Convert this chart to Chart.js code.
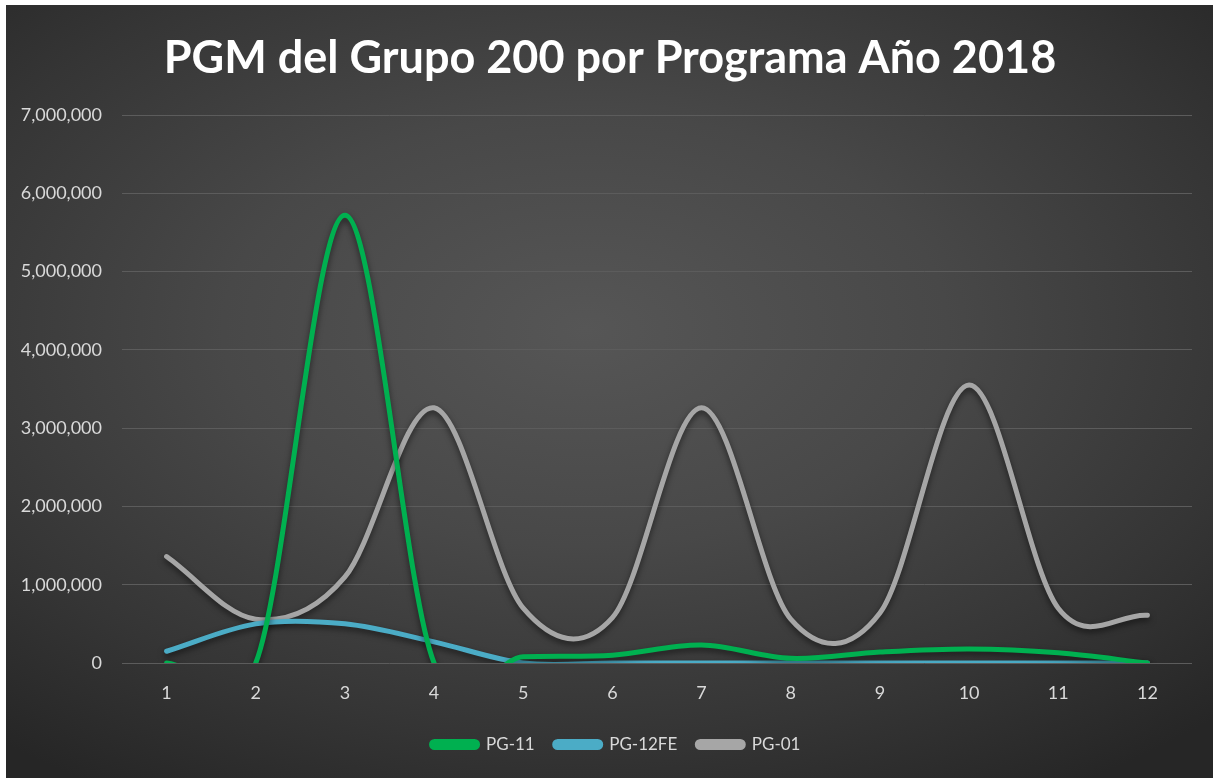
<!DOCTYPE html>
<html>
<head>
<meta charset="utf-8">
<script src="https://cdn.jsdelivr.net/npm/chart.js@4.4.1/dist/chart.umd.min.js"></script>
<style>
  html, body { margin: 0; padding: 0; background: #ffffff; }
  #wrap {
    position: absolute; left: 6px; top: 5px; width: 1207px; height: 773px;
    background: radial-gradient(ellipse 75% 70% at 48% 42%, #565656 0%, #484848 40%, #353535 75%, #262626 100%);
  }
</style>
</head>
<body>
<div id="wrap"><canvas id="myChart" width="1207" height="773"></canvas></div>
<script>
// data
var months = ['1', '2', '3', '4', '5', '6', '7', '8', '9', '10', '11', '12']
var pg11   = [0, 0, 5720000, 0, 80000, 100000, 230000, 60000, 140000, 180000, 130000, 0]
var pg12fe = [150000, 500000, 500000, 270000, 0, 0, 0, 0, 0, 0, 0, 0]
var pg01   = [1360000, 560000, 1100000, 3260000, 700000, 580000, 3260000, 560000, 640000, 3550000, 700000, 610000]

var tickColor = '#d9d9d9'

//excel style smoothing (uniform catmull-rom on the pixel points) + shadow under the lines
var excelLines = {
  id: 'excelLines',
  beforeDatasetDraw: function(chart, args){
    var meta = args.meta
    var line = meta.dataset
    var pts = meta.data
    if (line && line.updateControlPoints) line.updateControlPoints(chart.chartArea, meta.indexAxis)
    for (var i = 0; i < pts.length; i++) {
      var p = pts[i]
      var prev = pts[i - 1] || p
      var next = pts[i + 1] || p
      var dx, dy
      if (i === 0) { dx = (next.x - p.x) / 3; dy = (next.y - p.y) / 3 }
      else if (i === pts.length - 1) { dx = (p.x - prev.x) / 3; dy = (p.y - prev.y) / 3 }
      else { dx = (next.x - prev.x) / 6; dy = (next.y - prev.y) / 6 }
      p.cp1x = p.x - dx
      p.cp1y = p.y - dy
      p.cp2x = p.x + dx
      p.cp2y = p.y + dy
    }
    if (line) { line._path = undefined; line._pointsUpdated = true }

    var c = chart.ctx
    c.save()
    c.shadowColor = 'rgba(0,0,0,0.55)'
    c.shadowBlur = 6
    c.shadowOffsetY = 3
  },
  afterDatasetDraw: function(chart){
    chart.ctx.restore()
  },
  afterLayout: function(chart){
    // title and legend sit a bit right of the plot centre in the original
    chart.titleBlock.left += 11
    chart.titleBlock.right += 11
    chart.legend.left += 17
    chart.legend.right += 17
  }
}

function makeSet(label, data, color){
  return {
    label: label,
    data: data,
    borderColor: color,
    backgroundColor: color,
    borderWidth: 5,
    borderCapStyle: 'round',
    pointRadius: 0,
    pointHoverRadius: 0,
    tension: 0.4,
    capBezierPoints: false,
    fill: false
  }
}

var ctx = document.getElementById('myChart').getContext('2d')
var chart = new Chart(ctx, {
  type: 'line',
  data: {
    labels: months,
    datasets: [
      makeSet('PG-11', pg11, '#00b050'),
      makeSet('PG-12FE', pg12fe, '#4bacc6'),
      makeSet('PG-01', pg01, '#a6a6a6')
    ]
  },
  options: {
    responsive: false,
    animation: false,
    layout: { padding: { left: 0, right: 21, top: 0, bottom: 15 } },
    plugins: {
      title: {
        display: true,
        text: 'PGM del Grupo 200 por Programa Año 2018',
        color: '#ffffff',
        font: { family: 'Lato', size: 45, weight: 'bold', lineHeight: 1.2 },
        padding: { top: 26, bottom: 30 }
      },
      legend: {
        position: 'bottom',
        labels: {
          color: tickColor,
          font: { family: 'Lato', size: 17 },
          boxWidth: 46,
          boxHeight: 6,
          useBorderRadius: true,
          borderRadius: 3,
          padding: 20
        }
      },
      tooltip: { enabled: false }
    },
    scales: {
      x: {
        offset: true,
        grid: { display: false },
        border: { display: false },
        ticks: { color: tickColor, font: { family: 'Lato', size: 18 }, padding: 11 },
        afterFit: function(s){ s.height = 53 }
      },
      y: {
        min: 0,
        max: 7000000,
        grid: { color: '#5c5c5c', lineWidth: 1, drawTicks: false },
        border: { display: false },
        ticks: {
          stepSize: 1000000,
          color: tickColor,
          font: { family: 'Lato', size: 18 },
          padding: 20,
          callback: function(v){ return v.toLocaleString('en-US') }
        },
        afterFit: function(s){ s.width = 116 }
      }
    }
  },
  plugins: [excelLines]
})
</script>
</body>
</html>
